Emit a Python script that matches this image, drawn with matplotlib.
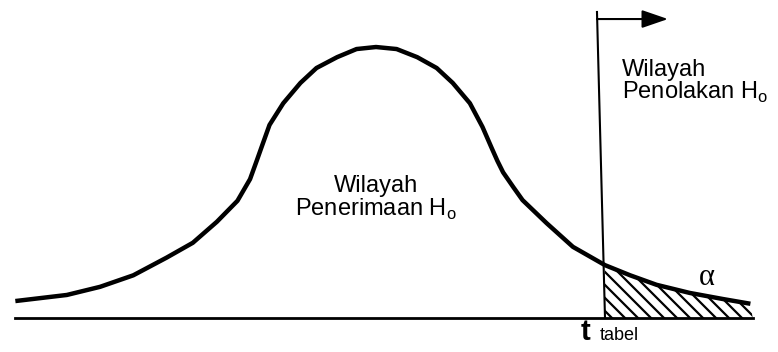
import numpy as np
import matplotlib.pyplot as plt
import matplotlib.transforms as mtransforms
from matplotlib.patches import Polygon

plt.rcParams['font.family'] = ['Liberation Sans', 'DejaVu Sans']
plt.rcParams['mathtext.fontset'] = 'custom'
plt.rcParams['mathtext.rm'] = 'Liberation Sans'

# curve (t value, density)
t_vals = np.array([-3.15, -3.00, -2.70, -2.41, -2.12, -1.83, -1.60, -1.39, -1.21, -1.10,
                   -1.04, -1.00, -0.93, -0.81, -0.66, -0.52, -0.34, -0.17, 0.00, 0.18,
                   0.36, 0.53, 0.67, 0.82, 0.93, 1.01, 1.06, 1.11, 1.20, 1.28,
                   1.49, 1.72, 2.00, 2.22, 2.45, 2.74, 3.03, 3.27])
dens_vals = np.array([0.025, 0.028, 0.034, 0.046, 0.063, 0.089, 0.111, 0.142, 0.173, 0.205,
                      0.233, 0.252, 0.285, 0.317, 0.347, 0.369, 0.385, 0.397, 0.400, 0.397,
                      0.385, 0.369, 0.347, 0.317, 0.282, 0.251, 0.232, 0.215, 0.193, 0.174,
                      0.140, 0.105, 0.078, 0.063, 0.049, 0.037, 0.028, 0.021])
t_tabel = 2.00
axis_start, axis_end = -3.15, 3.29

fig = plt.figure(figsize=(7.78, 3.52), dpi=100)
ax = fig.add_axes([0, 0, 1, 1])
ax.set_xlim(-3.284, 3.511)
ax.set_ylim(-0.0502, 0.4694)
ax.axis('off')

# curve and axis line
ax.plot(t_vals, dens_vals, color='black', lw=3.2, solid_capstyle='butt', solid_joinstyle='round')
ax.plot([axis_start, axis_end], [0, 0], color='black', lw=2)

# hatched rejection area
mask = t_vals >= t_tabel
verts = np.column_stack([np.r_[t_vals[mask], t_vals[mask][-1] + 0.02, t_tabel],
                         np.r_[dens_vals[mask], 0, 0]])
region = Polygon(verts, closed=True, facecolor='none', edgecolor='none')
ax.add_patch(region)
for xb in np.arange(612, 775, 13):
    ln, = ax.plot([xb - 75, xb + 5], [109, 29], color='black', lw=1.6,
                  transform=mtransforms.IdentityTransform())
    ln.set_clip_path(region)

# critical line and arrow
ax.plot([1.93, t_tabel], [0.4517, 0], color='black', lw=1.5)
ax.annotate('', xy=(2.55, 0.4413), xytext=(1.93, 0.4413),
            arrowprops=dict(arrowstyle='-|>,head_length=1.6,head_width=0.55', color='black',
                            lw=1.5, mutation_scale=10, shrinkA=0, shrinkB=0))

# labels
ax.text(0.0, 0.176, 'Wilayah\nPenerimaan H$_\\mathrm{o}$', ha='center', va='center',
        multialignment='center', fontsize=17, linespacing=1.0)
ax.text(2.148, 0.348, 'Wilayah\nPenolakan H$_\\mathrm{o}$', ha='left', va='center',
        fontsize=17, linespacing=0.92)
ax.text(2.89, 0.0598, 'α', ha='center', va='center', fontsize=22, family='Liberation Serif')
ax.text(1.834, -0.0325, 't', ha='center', va='baseline', fontsize=21, fontweight='bold')
ax.text(1.956, -0.0325, 'tabel', ha='left', va='baseline', fontsize=13)

fig.savefig('out.png', dpi=100)
